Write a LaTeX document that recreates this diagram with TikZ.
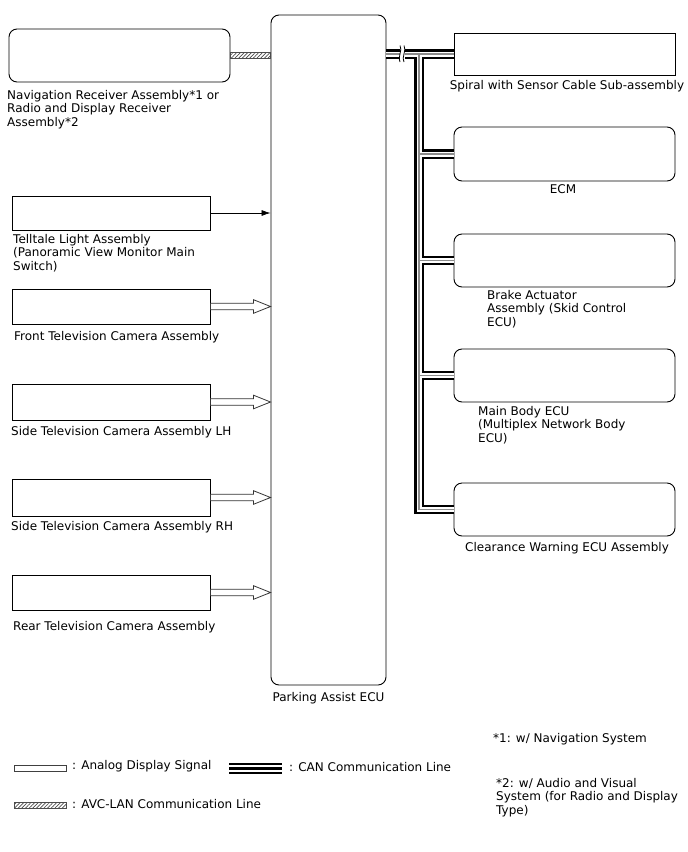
\documentclass[tikz,border=0pt]{standalone}
\usepackage{fontspec}
\setmainfont{DejaVu Sans}
\usetikzlibrary{patterns.meta,arrows.meta,calc}
\begin{document}
\begin{tikzpicture}[x=1pt,y=-1pt,
  box/.style={draw=black,line width=0.9pt,inner sep=0,fill=white},
  rbox/.style={box,rounded corners=8pt},
  lbl/.style={inner sep=0,font=\fontsize{12}{13.6}\selectfont,align=left},
  hollowarrow/.style={draw=black!80,line width=0.8pt,fill=white},
  canblack/.style={line width=9.4pt,black},
  canwhite/.style={line width=5pt,white},
  cangray/.style={line width=1.1pt,black!45},
]
\useasboundingbox (0,0) rectangle (688,852);
% boxes
\node[rbox,minimum width=221pt,minimum height=53pt] (nav) at (119.5,55.5) {};
\node[rbox,minimum width=115pt,minimum height=670pt] (ecu) at (328.5,350) {};
\node[box,minimum width=221pt,minimum height=42pt] (spiral) at (564.5,54) {};
\node[rbox,minimum width=221pt,minimum height=54pt] (ecm) at (564.5,154) {};
\node[rbox,minimum width=221pt,minimum height=53pt] (brake) at (564.5,260.5) {};
\node[rbox,minimum width=221pt,minimum height=53pt] (body) at (564.5,375.5) {};
\node[rbox,minimum width=221pt,minimum height=53pt] (clear) at (564.5,509.5) {};
\node[box,minimum width=198pt,minimum height=34pt] (tell) at (111,213) {};
\node[box,minimum width=198pt,minimum height=35pt] (front) at (111,306.5) {};
\node[box,minimum width=198pt,minimum height=36pt] (lh) at (111,402) {};
\node[box,minimum width=198pt,minimum height=37pt] (rh) at (111,497.5) {};
\node[box,minimum width=198pt,minimum height=35pt] (rear) at (111,592.5) {};

% labels
\node[lbl,anchor=north west] at (7,90) {Navigation Receiver Assembly*1 or\\Radio and Display Receiver\\Assembly*2};
\node[lbl,anchor=north west] at (13,234) {Telltale Light Assembly\\(Panoramic View Monitor Main\\Switch)};
\node[lbl,anchor=north west] at (14,331) {Front Television Camera Assembly};
\node[lbl,anchor=north west] at (11,426) {Side Television Camera Assembly LH};
\node[lbl,anchor=north west] at (11,521) {Side Television Camera Assembly RH};
\node[lbl,anchor=north west] at (13,621) {Rear Television Camera Assembly};
\node[lbl,anchor=north] at (ecu.south |- 0,692) {Parking Assist ECU};
\node[lbl,anchor=north] at (567,80) {Spiral with Sensor Cable Sub-assembly};
\node[lbl,anchor=north] at (563,184) {ECM};
\node[lbl,anchor=north west] at (487,290) {Brake Actuator\\Assembly (Skid Control\\ECU)};
\node[lbl,anchor=north west] at (478,406) {Main Body ECU\\(Multiplex Network Body\\ECU)};
\node[lbl,anchor=north] at (567,542) {Clearance Warning ECU Assembly};

% AVC-LAN
\path[draw=black!70,line width=0.6pt,pattern={Lines[angle=45,distance=2.6pt,line width=0.7pt]},pattern color=black!70]
  ([yshift=-3pt]nav.east) rectangle ([yshift=3pt]ecu.west |- nav.east);

% telltale arrow
\draw[line width=0.7pt,-{Latex[length=9pt,width=6pt]}] (tell.east) -- (ecu.west |- tell.east);

% hollow arrows
\foreach \b in {front,lh,rh,rear}{
  \path[hollowarrow] ($(\b.east)+(0,-3.3)$) -- ++(43,0) -- ++(0,-3.5) -- (ecu.west |- \b.east)
     -- ($(\b.east)+(43,6.8)$) -- ++(0,-3.5) -- ($(\b.east)+(0,3.3)$) -- cycle;
}

% CAN bus
\coordinate (bt) at (419,54);
\foreach \s in {canblack,canwhite,cangray}{
  \draw[\s] (ecu.east |- spiral.west) -- (spiral.west);
  \draw[\s,line join=miter] (bt) -- (bt |- clear.west) -- (clear.west);
  \draw[\s] (bt |- ecm.west) -- (ecm.west);
  \draw[\s] (bt |- brake.west) -- (brake.west);
  \draw[\s] (bt |- body.west) -- (body.west);
}
% break mark
\fill[white] (399.5,48.5) rectangle (404.5,59.5);
\draw[line width=0.8pt] (400,45.5) .. controls (403,50) and (397,58) .. (400,62);
\draw[line width=0.8pt] (404,45.5) .. controls (407,50) and (401,58) .. (404,62);

% legend
\draw[black!75,line width=0.7pt,fill=white] (14,765) rectangle (66,771);
\node[lbl,anchor=west] at (72,766) {: Analog Display Signal};
\path[draw=black!70,line width=0.6pt,pattern={Lines[angle=45,distance=2.6pt,line width=0.7pt]},pattern color=black!70] (14,802) rectangle (66,808);
\node[lbl,anchor=west] at (72,804) {: AVC-LAN Communication Line};
\fill[black] (229,763) rectangle (282,774);
\fill[white] (229,765.3) rectangle (282,767.3);
\fill[white] (229,769.7) rectangle (282,771.7);
\node[lbl,anchor=west] at (289,767) {: CAN Communication Line};

\node[lbl,anchor=west] at (493,739) {*1: w/ Navigation System};
\node[lbl,anchor=north west] at (496,778) {*2: w/ Audio and Visual\\System (for Radio and Display\\Type)};
\end{tikzpicture}
\end{document}
